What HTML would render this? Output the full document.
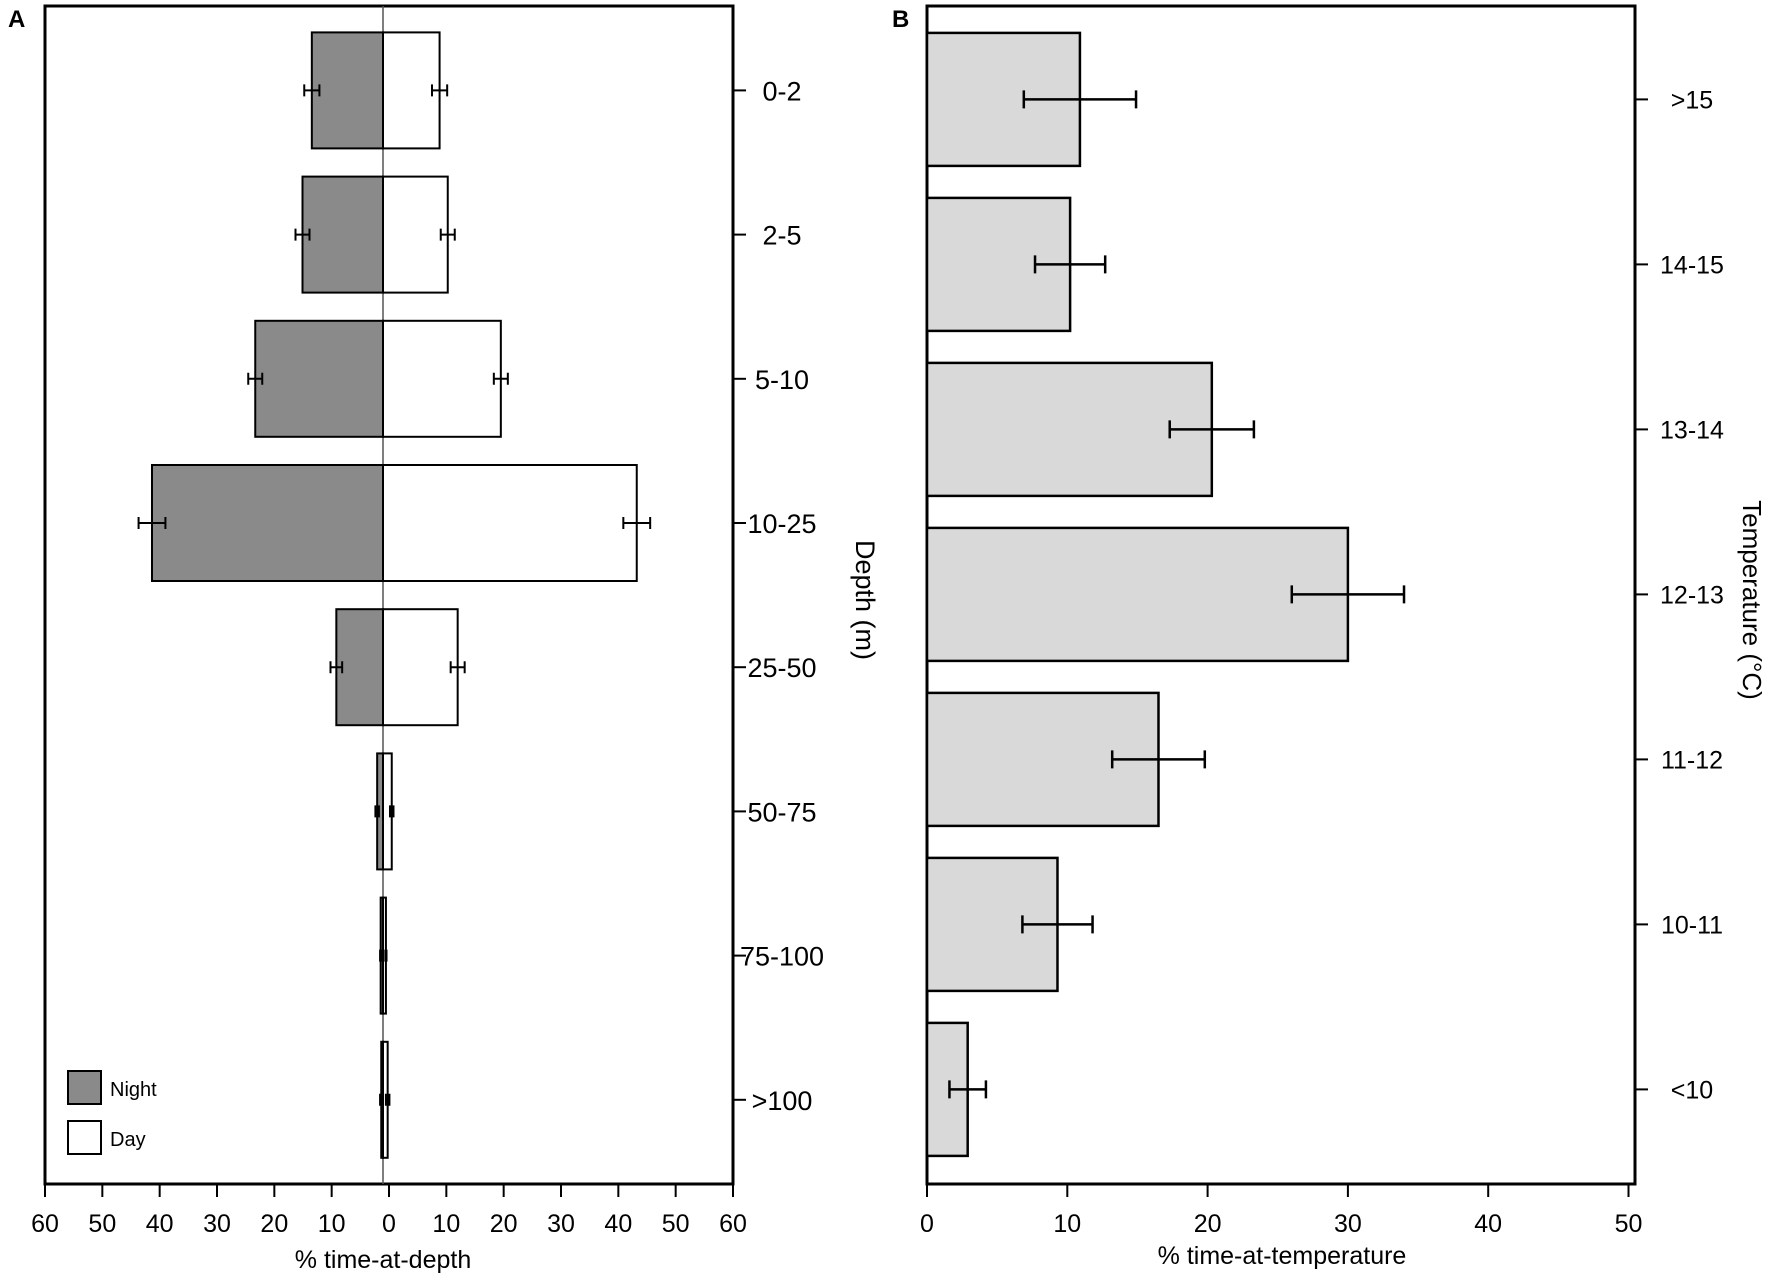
<!DOCTYPE html>
<html><head><meta charset="utf-8"><style>
html,body{margin:0;padding:0;background:#fff}
svg{display:block;font-family:"Liberation Sans",sans-serif}
</style></head><body>
<svg id="c" width="1772" height="1285" viewBox="0 0 1772 1285">
<text x="8" y="27" font-size="24" font-weight="bold">A</text>
<text x="892" y="27" font-size="24" font-weight="bold">B</text>
</svg>
<script>
const depthCats=["0-2","2-5","5-10","10-25","25-50","50-75","75-100",">100"];
const nightVals=[12.2,13.8,21.9,39.6,8.0,1.0,0.4,0.3];
const nightErr=[1.3,1.2,1.2,2.3,1.0,0.3,0.1,0.2];
const dayVals=[9.7,11.1,20.2,43.5,12.8,1.5,0.5,0.8];
const dayErr=[1.3,1.2,1.2,2.3,1.2,0.3,0.1,0.3];
const depthTicks=[60,50,40,30,20,10,0,10,20,30,40,50,60];
const tempCats=[">15","14-15","13-14","12-13","11-12","10-11","<10"];
const tempVals=[10.9,10.2,20.3,30.0,16.5,9.3,2.9];
const tempErr=[4.0,2.5,3.0,4.0,3.3,2.5,1.3];
const tempTicks=[0,10,20,30,40,50];

const svg=document.getElementById('c');
const NS='http://www.w3.org/2000/svg';
function mk(tag,attrs,name,txt){const e=document.createElementNS(NS,tag);for(const k in attrs)e.setAttribute(k,attrs[k]);


if(txt!==undefined)e.textContent=txt;svg.appendChild(e);return e;}

// Panel A
const aL=45,aR=733,aT=6,aB=1184,a0=383;
const ax=v=>a0+v*(aR-a0)/60;
const aY0=90.4,aStep=144.2,aH=116;
const ay=i=>aY0+i*aStep;
mk('rect',{x:aL,y:aT,width:aR-aL,height:aB-aT,fill:'none',stroke:'#000','stroke-width':3},'panel-a-frame');
mk('line',{x1:a0,y1:aT,x2:a0,y2:aB,stroke:'#555','stroke-width':1.5},'zero-line');
depthCats.forEach((c,i)=>{
  const y=ay(i);
  const xn=ax(-nightVals[i]);
  mk('rect',{x:xn,y:y-aH/2,width:a0-xn,height:aH,fill:'#8a8a8a',stroke:'#000','stroke-width':2},'night-bar-'+c);
  const xd=ax(dayVals[i]);
  mk('rect',{x:a0,y:y-aH/2,width:xd-a0,height:aH,fill:'#fff',stroke:'#000','stroke-width':2},'day-bar-'+c);
  [[-nightVals[i],nightErr[i],'night'],[dayVals[i],dayErr[i],'day']].forEach(([v,e,s])=>{
    const x1=ax(v-e),x2=ax(v+e);
    mk('path',{d:`M${x1},${y}H${x2}M${x1},${y-6}V${y+6}M${x2},${y-6}V${y+6}`,stroke:'#000','stroke-width':2,fill:'none'},s+'-error-'+c);
  });
  mk('line',{x1:aR,y1:y,x2:aR+13,y2:y,stroke:'#000','stroke-width':2},'depth-tick-'+c);
  mk('text',{x:aR+49,y:y+10,'font-size':27,'text-anchor':'middle'},'depth-label-'+c,c);
});
depthTicks.forEach((t,i)=>{
  const x=aL+i*(aR-aL)/12;
  mk('line',{x1:x,y1:aB,x2:x,y2:aB+13,stroke:'#000','stroke-width':2},'x-tick-a-'+i);
  mk('text',{x:x,y:aB+48,'font-size':25,'text-anchor':'middle'},'x-label-a-'+i,t);
});
mk('text',{x:a0,y:1268,'font-size':25,'text-anchor':'middle'},'x-axis-title-a','% time-at-depth');
mk('text',{x:0,y:0,'font-size':27,'text-anchor':'middle',transform:`translate(856,600) rotate(90)`},'y-axis-title-a','Depth (m)');
mk('rect',{x:68,y:1071,width:33,height:33,fill:'#8a8a8a',stroke:'#000','stroke-width':2},'legend-night-swatch');
mk('text',{x:110,y:1096,'font-size':20},'legend-night-label','Night');
mk('rect',{x:68,y:1121,width:33,height:33,fill:'#fff',stroke:'#000','stroke-width':2},'legend-day-swatch');
mk('text',{x:110,y:1146,'font-size':20},'legend-day-label','Day');

// Panel B
const bL=927,bR=1635,bT=6,bB=1184,b0=927,bPer=14.03;
const bx=v=>b0+v*bPer;
const bY0=99.4,bStep=165,bH=133;
const by=i=>bY0+i*bStep;
mk('rect',{x:bL,y:bT,width:bR-bL,height:bB-bT,fill:'none',stroke:'#000','stroke-width':3},'panel-b-frame');
tempCats.forEach((c,i)=>{
  const y=by(i);
  mk('rect',{x:b0,y:y-bH/2,width:bx(tempVals[i])-b0,height:bH,fill:'#d9d9d9',stroke:'#000','stroke-width':2.5},'temp-bar-'+c);
  const x1=bx(tempVals[i]-tempErr[i]),x2=bx(tempVals[i]+tempErr[i]);
  mk('path',{d:`M${x1},${y}H${x2}M${x1},${y-9}V${y+9}M${x2},${y-9}V${y+9}`,stroke:'#000','stroke-width':2.5,fill:'none'},'temp-error-'+c);
  mk('line',{x1:bR,y1:y,x2:bR+13,y2:y,stroke:'#000','stroke-width':2},'temp-tick-'+c);
  mk('text',{x:1692,y:y+9,'font-size':25,'text-anchor':'middle'},'temp-label-'+c,c);
});
tempTicks.forEach((t,i)=>{
  const x=bx(t);
  mk('line',{x1:x,y1:bB,x2:x,y2:bB+13,stroke:'#000','stroke-width':2},'x-tick-b-'+i);
  mk('text',{x:x,y:bB+48,'font-size':25,'text-anchor':'middle'},'x-label-b-'+i,t);
});
mk('text',{x:1282,y:1264,'font-size':25,'text-anchor':'middle'},'x-axis-title-b','% time-at-temperature');
mk('text',{x:0,y:0,'font-size':26,'text-anchor':'middle',transform:`translate(1743,600) rotate(90)`},'y-axis-title-b','Temperature (°C)');
</script>
</body></html>
